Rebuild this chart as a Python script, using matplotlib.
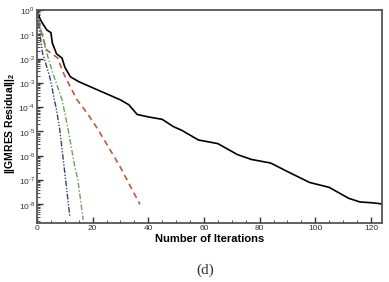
import numpy as np
import matplotlib
matplotlib.use("Agg")
from matplotlib import pyplot as plt
from matplotlib.ticker import MultipleLocator, LogLocator, NullFormatter, FuncFormatter

# log10 of the GMRES residual
black_iter = [0, 1, 2, 3.5, 5, 5.5, 7, 9, 10, 12, 15, 18, 22, 27, 30, 33, 36, 40, 45,
              49, 52, 58, 65, 72, 77, 84, 90, 98, 105, 112, 116, 121, 125]
black_log = [0, -0.35, -0.55, -0.82, -0.93, -1.35, -1.8, -1.98, -2.35, -2.75, -2.95,
             -3.1, -3.3, -3.55, -3.7, -3.9, -4.3, -4.4, -4.5, -4.8, -4.95, -5.35, -5.5,
             -5.95, -6.15, -6.3, -6.65, -7.1, -7.3, -7.75, -7.9, -7.94, -8.0]

red_iter = [0, 1.5, 3.5, 7.5, 9, 10.7, 14.4, 18, 21.6, 26.3, 29.9, 37]
red_log = [0, -0.9, -1.65, -1.98, -2.47, -2.88, -3.7, -4.24, -4.86, -5.76, -6.46, -8.0]

green_iter = [0, 1.7, 3.5, 5.7, 9, 11, 13.6, 14.7, 16.6]
green_log = [0, -0.95, -1.77, -2.6, -3.7, -4.8, -6.46, -7.0, -8.64]

blue_iter = [0, 1, 2, 4.6, 7, 8.2, 10, 11.8]
blue_log = [0, -0.95, -1.77, -2.76, -4.1, -4.94, -6.7, -8.5]

plt.rcParams["font.family"] = ["Liberation Sans", "DejaVu Sans"]
plt.rcParams["mathtext.fontset"] = "custom"
plt.rcParams["mathtext.rm"] = "Liberation Sans"
plt.rcParams["mathtext.bf"] = "Liberation Sans:bold"

fig = plt.figure(figsize=(3.89, 2.82), dpi=100)
ax = fig.add_axes([0.0951, 0.209, 0.887, 0.7555])

ax.plot(black_iter, 10.0 ** np.array(black_log), color="black", lw=1.2)
ax.plot(red_iter, 10.0 ** np.array(red_log), color="#c0583f", lw=1.2,
        dashes=(3.5, 2.5))
ax.plot(green_iter, 10.0 ** np.array(green_log), color="#6a9f5a", lw=1.0,
        dashes=(4, 1.5, 1, 1.5))
ax.plot(blue_iter, 10.0 ** np.array(blue_log), color="#3d3f6e", lw=1.0,
        dashes=(4, 1.2, 1, 1.2, 1, 1.2))

ax.set_yscale("log")
ax.set_xlim(0, 124)
ax.set_ylim(10 ** -8.77, 1)


def pow10(v, pos):
    e = int(round(np.log10(v)))
    # short hyphen rather than the wide math minus
    s = "\u2010%d" % -e if e < 0 else "%d" % e
    return "10$^{%s}$" % s


ax.xaxis.set_major_locator(MultipleLocator(20))
ax.xaxis.set_minor_locator(MultipleLocator(5))
ax.yaxis.set_major_locator(LogLocator(base=10, numticks=20))
ax.yaxis.set_minor_locator(LogLocator(base=10, subs=np.arange(2, 10), numticks=20))
ax.yaxis.set_minor_formatter(NullFormatter())
ax.yaxis.set_major_formatter(FuncFormatter(pow10))

ax.tick_params(which="both", direction="in", top=False, right=False,
               labelsize=6, pad=1.5, colors="#333333")
ax.tick_params(which="major", length=4, width=1.0)
ax.tick_params(which="minor", length=2, width=0.6)
for s in ax.spines.values():
    s.set_linewidth(1.3)
    s.set_color("#555555")

ax.set_xlabel("Number of Iterations", fontsize=8, fontweight="bold", labelpad=1)
ax.set_ylabel(r"||GMRES Residual||$_\mathbf{2}$", fontsize=7.5, fontweight="bold")
ax.yaxis.set_label_coords(-0.058, 0.47)

fig.text(0.527, 0.04, "(d)", fontsize=11, family="Liberation Serif",
         ha="center", va="center", color="#333333")

fig.savefig("out.png", dpi=100)
